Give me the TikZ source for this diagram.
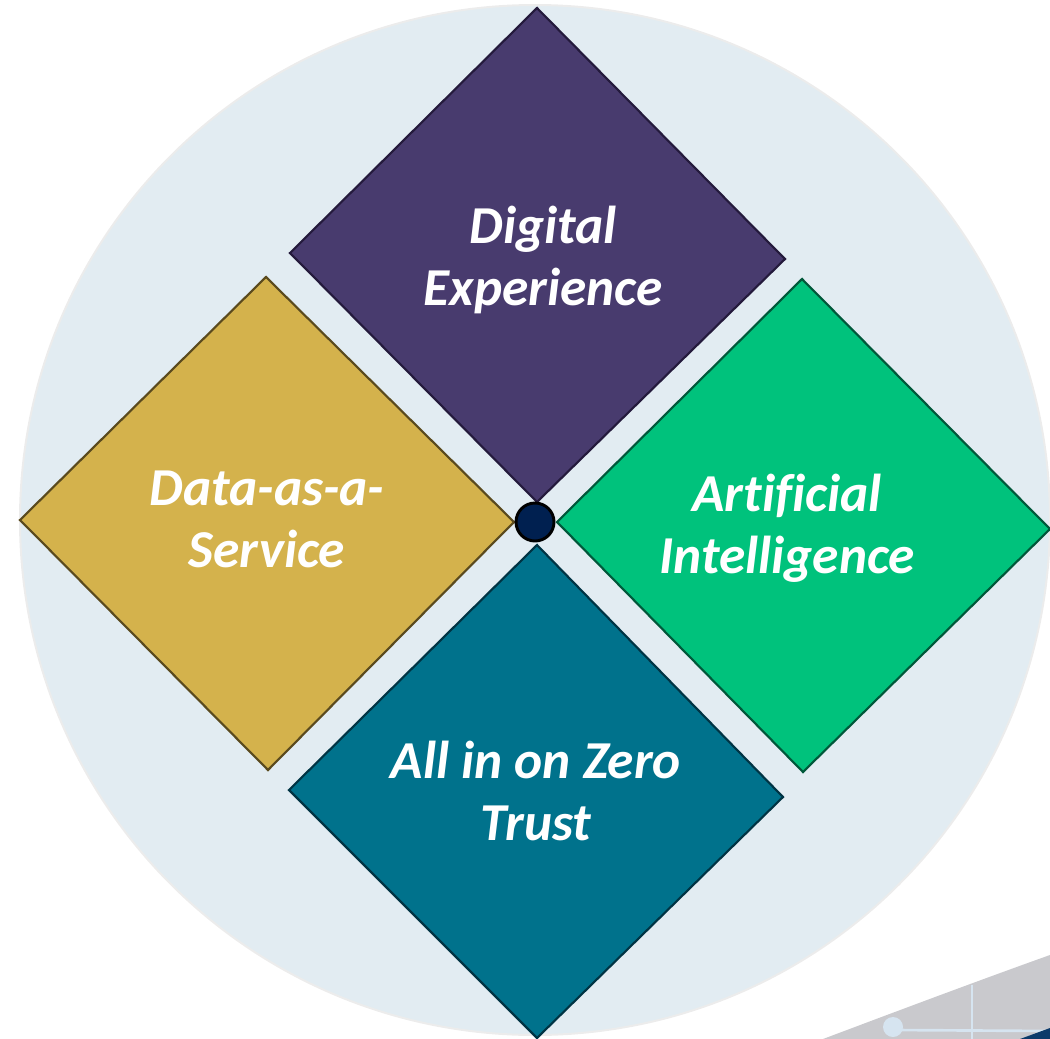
\documentclass[tikz,border=0pt]{standalone}
\usepackage{fontspec}
\setmainfont{Carlito}[Ligatures=CommonOff]
\definecolor{bgcirc}{HTML}{E2ECF2}
\definecolor{bgedge}{HTML}{ECECEC}
\definecolor{cpurple}{HTML}{483B6E}
\definecolor{cpurpleE}{HTML}{241A3C}
\definecolor{cgold}{HTML}{D4B24C}
\definecolor{cgoldE}{HTML}{5A4A1E}
\definecolor{cgreen}{HTML}{00C27C}
\definecolor{cgreenE}{HTML}{00583A}
\definecolor{cteal}{HTML}{00728C}
\definecolor{ctealE}{HTML}{003444}
\definecolor{cnavy}{HTML}{002050}
\definecolor{swgray}{HTML}{C9C9CD}
\definecolor{swline}{HTML}{D6E4F0}
\definecolor{swnavy}{HTML}{0B3A6A}
\begin{document}
\begin{tikzpicture}[x=0.75pt,y=-0.75pt,
  diam/.style={line width=1.6pt, line join=miter},
  lbl/.style={text=white, align=center, anchor=base,
    font=\fontsize{40}{46.5}\selectfont\bfseries\itshape, inner sep=0pt}]
\useasboundingbox (0,0) rectangle (1050,1039);
\clip (0,0) rectangle (1050,1039);
% bottom-right swoosh
\fill[swgray] (823,1039) .. controls (900,1010) and (980,980) .. (1050,955) -- (1050,1039) -- cycle;
\draw[swline, line width=2pt] (972,985) -- (972,1039);
\draw[swline, line width=2pt] (893,1030) -- (1050,1031);
\fill[swline] (893,1027) circle (10);
\fill[swnavy] (1020,1039) -- (1050,1028) -- (1050,1039) -- cycle;
% background circle
\draw[fill=bgcirc, draw=bgedge, line width=1.5pt] (535,520) circle (515);
% diamonds
\draw[diam, fill=cpurple, draw=cpurpleE] (537,8) -- (785,259) -- (537,502) -- (290,253) -- cycle;
\draw[diam, fill=cgold, draw=cgoldE] (266,277) -- (514,522) -- (268,770) -- (20,520) -- cycle;
\draw[diam, fill=cgreen, draw=cgreenE] (802,279) -- (1050,529) -- (803,772) -- (557,522) -- cycle;
\draw[diam, fill=cteal, draw=ctealE] (537,545) -- (783,797) -- (537,1038) -- (289,790) -- cycle;
% center dot
\node[circle, fill=cnavy, draw=black, line width=2.2pt, minimum size=38*0.75pt, inner sep=0pt] (hub) at (535,522) {};
% labels (anchor base = baseline of last line)
\node[lbl] (dx) at (543,305) {Digital\\Experience};
\node[lbl] (daas) at (267,567) {Data-as-a-\\Service};
\node[lbl] (ai) at (787,573) {Artificial\\Intelligence};
\node[lbl] (zt) at (536,840) {All in on Zero\\Trust};
\end{tikzpicture}
\end{document}
